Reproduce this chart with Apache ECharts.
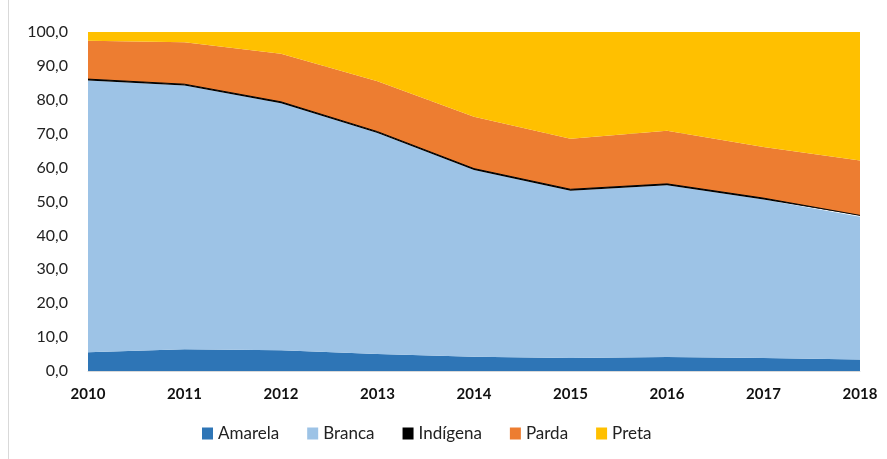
<!DOCTYPE html>
<html>
<head>
<meta charset="utf-8">
<script src="https://cdn.jsdelivr.net/npm/echarts@6/dist/echarts.min.js"></script>
<style>
  html, body { margin: 0; padding: 0; background: #fff; }
  #chart { width: 887px; height: 459px; }
</style>
</head>
<body>
<div id="chart"></div>
<script>
// anos e percentuais por cor/raça
var years = ['2010', '2011', '2012', '2013', '2014', '2015', '2016', '2017', '2018'];
var amarela = [5.5, 6.4, 6.1, 5.0, 4.2, 3.8, 4.1, 3.8, 3.4];
var branca = [80.2, 77.8, 72.9, 65.2, 55.1, 49.4, 50.7, 46.8, 42.1];
var indigena = [0.4, 0.4, 0.4, 0.4, 0.4, 0.4, 0.4, 0.4, 0.4];
var parda = [11.3, 12.4, 14.2, 14.9, 15.3, 14.9, 15.7, 15.1, 16.2];
var preta = [2.6, 3.0, 6.4, 14.5, 25.0, 31.5, 29.1, 33.9, 37.9];

var fontFam = 'Lato, "Open Sans", sans-serif';

function area(name, data, color, lineW) {
    return {
        name: name,
        type: 'line',
        stack: 'total',
        data: data,
        showSymbol: false,
        symbol: 'none',
        itemStyle: { color: color },
        lineStyle: { width: lineW, color: color },
        areaStyle: { color: color, opacity: 1 }
    };
}

var myChart = echarts.init(document.getElementById('chart'));
myChart.setOption({
    animation: false,
    graphic: [{
        type: 'line',
        shape: { x1: 8.5, y1: 0, x2: 8.5, y2: 459 },
        style: { stroke: '#d9d9d9', lineWidth: 1 }
    }],
    grid: { left: 88, right: 27, top: 32, bottom: 88 },
    legend: {
        bottom: 12,
        left: 197,
        itemWidth: 11,
        itemHeight: 12,
        itemGap: 28,
        icon: 'rect',
        textStyle: { fontSize: 17, color: '#222', fontFamily: fontFam },
        data: ['Amarela', 'Branca', 'Indígena', 'Parda', 'Preta']
    },
    xAxis: {
        type: 'category',
        data: years,
        boundaryGap: false,
        axisLine: { lineStyle: { color: '#d9d9d9' } },
        axisTick: { show: false },
        axisLabel: { fontSize: 15, fontWeight: 'bold', color: '#111', margin: 16, fontFamily: fontFam }
    },
    yAxis: {
        type: 'value',
        min: 0,
        max: 100,
        interval: 10,
        axisLine: { show: false },
        axisTick: { show: false },
        splitLine: { lineStyle: { color: '#d9d9d9' } },
        axisLabel: {
            fontSize: 16,
            color: '#222',
            margin: 20,
            fontFamily: fontFam,
            formatter: function (v) { return v.toFixed(1).replace('.', ','); }
        }
    },
    series: [
        area('Amarela', amarela, '#2e75b6', 0),
        area('Branca', branca, '#9dc3e6', 0),
        area('Indígena', indigena, '#000000', 1),
        area('Parda', parda, '#ed7d31', 0),
        area('Preta', preta, '#ffc000', 0)
    ]
});
</script>
</body>
</html>
